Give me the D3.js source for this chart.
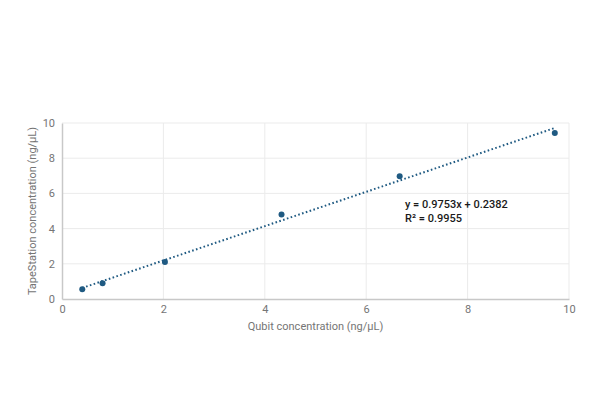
<!DOCTYPE html>
<html><head><meta charset="utf-8">
<script src="https://cdn.jsdelivr.net/npm/d3@7"></script>
<style>body{margin:0;background:#fff;} svg{display:block;font-family:Roboto, sans-serif;}</style>
</head><body>
<svg id="c" width="600" height="400"></svg>
<script>
const qubit = [0.40, 0.80, 2.03, 4.33, 6.66, 9.72];
const tapeStation = [0.55, 0.90, 2.10, 4.80, 6.98, 9.43];
const xTicks = [0, 2, 4, 6, 8, 10];
const yTicks = [0, 2, 4, 6, 8, 10];
const slope = 0.9753, intercept = 0.2382, r2 = 0.9955;
const xTitle = "Qubit concentration (ng/µL)";
const yTitle = "TapeStation concentration (ng/µL)";

const svg = d3.select("#c");
const m = {l: 62, r: 31, t: 123, b: 101};
const W = 600, H = 400;
const x = d3.scaleLinear().domain([0, 10]).range([m.l, W - m.r]);
const y = d3.scaleLinear().domain([0, 10]).range([H - m.b, m.t]);

// grid
svg.append("g").selectAll("line").data(xTicks.slice(1)).join("line")
  .attr("x1", d => x(d)).attr("x2", d => x(d)).attr("y1", y(0)).attr("y2", y(10))
  .attr("stroke", "#ebebeb").attr("stroke-width", 1);
svg.append("g").selectAll("line").data(yTicks.slice(1)).join("line")
  .attr("x1", x(0)).attr("x2", x(10)).attr("y1", d => y(d)).attr("y2", d => y(d))
  .attr("stroke", "#ebebeb").attr("stroke-width", 1);

// axes
const xa = svg.append("g").attr("transform", `translate(0,${y(0)})`)
  .call(d3.axisBottom(x).tickValues(xTicks).tickSize(0).tickPadding(6));
const ya = svg.append("g").attr("transform", `translate(${x(0)},0)`)
  .call(d3.axisLeft(y).tickValues(yTicks).tickSize(0).tickPadding(7));
[xa, ya].forEach(a => {
  a.select(".domain").attr("stroke", "#c8c8c8").attr("stroke-width", 1.5);
  a.selectAll("text").attr("fill", "#757575").attr("font-size", 11).attr("font-family", "Roboto, sans-serif");
});

// trendline
const xmin = d3.min(qubit), xmax = d3.max(qubit);
svg.append("line")
  .attr("x1", x(xmin)).attr("y1", y(slope * xmin + intercept))
  .attr("x2", x(xmax)).attr("y2", y(slope * xmax + intercept))
  .attr("stroke", "#1f5a82").attr("stroke-width", 2)
  .attr("stroke-dasharray", "1.6,2.4");

// points
svg.append("g").selectAll("circle").data(qubit.map((q, i) => [q, tapeStation[i]])).join("circle")
  .attr("cx", d => x(d[0])).attr("cy", d => y(d[1])).attr("r", 3)
  .attr("fill", "#1f5a82");

// equation
const eq = svg.append("text").attr("x", 405).attr("y", 208)
  .attr("font-size", 11).attr("font-weight", 500).attr("fill", "#1a1a1a");
eq.append("tspan").attr("x", 405).text(`y = ${slope}x + ${intercept}`);
eq.append("tspan").attr("x", 405).attr("dy", 13.5).text(`R² = ${r2}`);

// titles
svg.append("text").attr("x", (x(0) + x(10)) / 2).attr("y", 330)
  .attr("text-anchor", "middle").attr("font-size", 11).attr("fill", "#757575").text(xTitle);
svg.append("text").attr("transform", `translate(36,${(y(0) + y(10)) / 2}) rotate(-90)`)
  .attr("text-anchor", "middle").attr("font-size", 11).attr("fill", "#757575").text(yTitle);
</script>
</body></html>
